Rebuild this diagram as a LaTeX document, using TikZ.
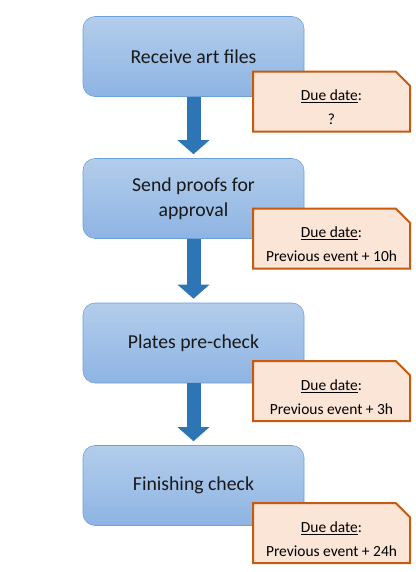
\documentclass[tikz,border=0pt]{standalone}
\usepackage{fontspec}
\setmainfont{Carlito}
\usetikzlibrary{arrows.meta}
\usetikzlibrary{shapes.misc}

\definecolor{stagetop}{HTML}{B3CDEB}
\definecolor{stagebot}{HTML}{8EB4E3}
\definecolor{stageline}{HTML}{6D9FD8}
\definecolor{duefill}{HTML}{FBE5D6}
\definecolor{dueline}{HTML}{C55A11}
\definecolor{flow}{HTML}{2E75B6}

\begin{document}
\begin{tikzpicture}[x=0.75pt, y=-0.75pt]
            \tikzset{stage/.style={rectangle, rounded corners=9pt, draw=stageline,
                        top color=stagetop, bottom color=stagebot,
                        minimum width=165.75pt, minimum height=60pt, align=center,
                        font=\fontsize{14.8}{18.8}\selectfont, text=black!90},
                    due/.style={chamfered rectangle, chamfered rectangle corners=north east,
                        chamfered rectangle xsep=7.5pt, draw=dueline, line width=1.5pt,
                        fill=duefill, minimum width=117.75pt, minimum height=45pt,
                        inner sep=0pt, align=center, text height=35pt,
                        font=\fontsize{11.6}{18}\selectfont},
                    >={Triangle[length=10.5pt, width=23.25pt]},
                    every edge/.style={draw=flow, line width=10.5pt, shorten >=3pt}}
            \useasboundingbox (0,0) rectangle (416,572);
            \node[stage] (1) at (193.5, 56.5) {Receive art files};
            \node[stage] (2) at (193.5, 198.5) {Send proofs for\\approval};
            \node[stage] (3) at (193.5, 343) {Plates pre-check};
            \node[stage] (4) at (193.5, 485.5) {Finishing check};
            \path [->] (1) edge (2);
            \path [->] (2) edge (3);
            \path [->] (3) edge (4);
            \node[due] (n1) at (331.5, 101.5) {\underline{Due date}:\\?};
            \node[due] (n2) at (331.5, 238.5) {\underline{Due date}:\\Previous event + 10h};
            \node[due] (n3) at (331.5, 391) {\underline{Due date}:\\Previous event + 3h};
            \node[due] (n4) at (331.5, 533) {\underline{Due date}:\\Previous event + 24h};
        \end{tikzpicture}
\end{document}
